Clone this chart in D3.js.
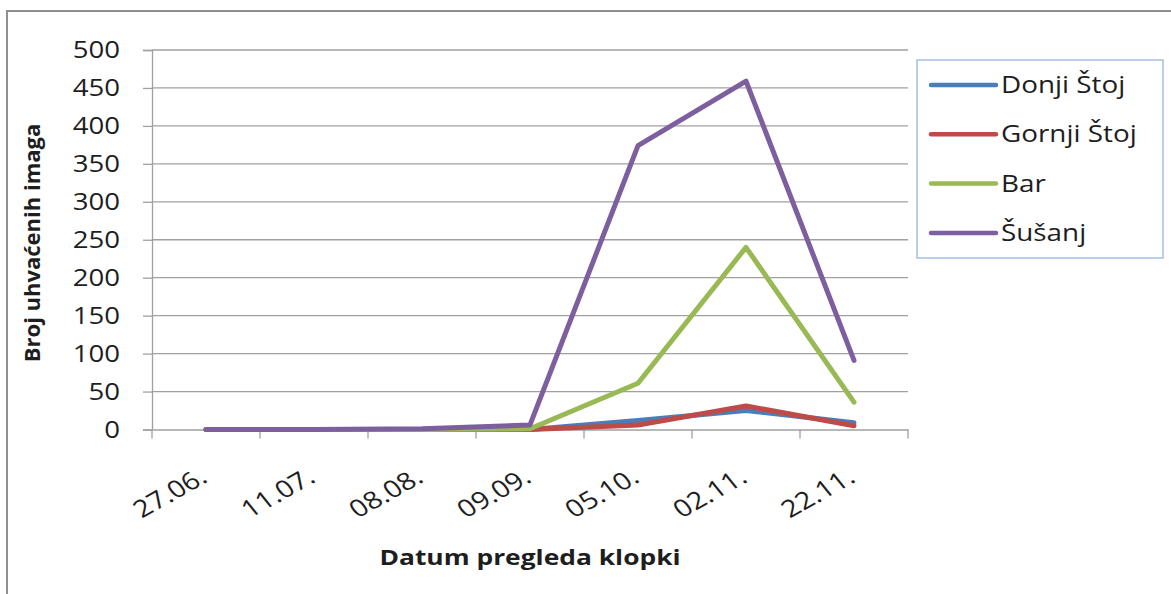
<!DOCTYPE html>
<html>
<head>
<meta charset="utf-8">
<script src="https://cdn.jsdelivr.net/npm/d3@7"></script>
<style>
  html, body { margin: 0; padding: 0; background: #fff; }
  svg { display: block; }
  text { font-family: "Open Sans", "Noto Sans", sans-serif; fill: #1e1e1e; }
</style>
</head>
<body>
<svg id="chart" width="1171" height="594"></svg>
<script>
const categories = ["27.06.", "11.07.", "08.08.", "09.09.", "05.10.", "02.11.", "22.11."];
const seriesNames = ["Donji Štoj", "Gornji Štoj", "Bar", "Šušanj"];
const seriesColors = ["#4a7ebb", "#be4b48", "#98b954", "#7d5fa0"];
const donjiStoj  = [0, 0, 0, 0, 12, 25, 9];
const gornjiStoj = [0, 0, 0, 0, 6, 31, 5];
const bar        = [0, 0, 0, 1, 61, 240, 36];
const susanj     = [0, 0, 1, 6, 374, 459, 91];
const seriesValues = [donjiStoj, gornjiStoj, bar, susanj];
const yTicks = [0, 50, 100, 150, 200, 250, 300, 350, 400, 450, 500];
const yTitle = "Broj uhvaćenih imaga";
const xTitle = "Datum pregleda klopki";

const SX = 1.2; // horizontal text stretch seen in the reference
const svg = d3.select("#chart");
const plot = { left: 152, right: 908, top: 50, bottom: 429.5 };

// outer frame (left and top edges visible)
svg.append("path")
  .attr("d", `M7,594 L7,11 L1171,11`)
  .attr("fill", "none").attr("stroke", "#8f8f8f").attr("stroke-width", 2);

const x = d3.scaleBand().domain(categories).range([plot.left, plot.right]).paddingInner(0).paddingOuter(0);
const y = d3.scaleLinear().domain([0, 500]).range([plot.bottom, plot.top]);

// gridlines
svg.append("g").selectAll("line").data(yTicks.filter(d => d > 0)).join("line")
  .attr("x1", plot.left).attr("x2", plot.right)
  .attr("y1", d => y(d)).attr("y2", d => y(d))
  .attr("stroke", "#a0a0a0").attr("stroke-width", 1.3);

// y axis (line + ticks through d3 axis, labels drawn stretched)
const yAxis = svg.append("g").attr("transform", `translate(${plot.left},0)`)
  .call(d3.axisLeft(y).tickValues(yTicks).tickSize(9).tickFormat(""));
yAxis.select(".domain").attr("stroke", "#a0a0a0").attr("stroke-width", 1.3);
yAxis.selectAll(".tick line").attr("stroke", "#a0a0a0").attr("stroke-width", 1.3);
svg.append("g").selectAll("text").data(yTicks).join("text")
  .attr("transform", d => `translate(120,${y(d)}) scale(${SX},1)`)
  .attr("text-anchor", "end").attr("dy", "0.36em")
  .style("font-size", "23px")
  .text(d => d3.format("d")(d));

// x axis
const xAxis = svg.append("g").attr("transform", `translate(0,${plot.bottom})`)
  .call(d3.axisBottom(x).tickSize(0).tickFormat(""));
xAxis.select(".domain").attr("stroke", "#a0a0a0").attr("stroke-width", 1.3);
xAxis.selectAll(".tick").remove();
const bounds = categories.map(c => x(c)).concat([x(categories[categories.length - 1]) + x.bandwidth()]);
xAxis.selectAll("line.bt").data(bounds).join("line").attr("class", "bt")
  .attr("x1", d => d).attr("x2", d => d).attr("y1", 0).attr("y2", 9)
  .attr("stroke", "#a0a0a0").attr("stroke-width", 1.3);

// x tick labels rotated
svg.append("g").selectAll("text").data(categories).join("text")
  .attr("transform", d => `translate(${x(d) + x.bandwidth() / 2 + 3},481) scale(${SX},1) rotate(-34)`)
  .attr("text-anchor", "end")
  .style("font-size", "24px")
  .text(d => d);

// lines
const line = d3.line().x((d, i) => x(categories[i]) + x.bandwidth() / 2).y(d => y(d));
svg.append("g").selectAll("path").data(seriesValues).join("path")
  .attr("d", d => line(d))
  .attr("fill", "none")
  .attr("stroke", (d, i) => seriesColors[i])
  .attr("stroke-width", 5)
  .attr("stroke-linejoin", "round")
  .attr("stroke-linecap", "round");

// axis titles
svg.append("text")
  .attr("transform", `translate(40,243) rotate(-90)`)
  .attr("text-anchor", "middle")
  .style("font-size", "22px").style("font-weight", "bold")
  .text(yTitle);
svg.append("text")
  .attr("transform", `translate(530,565) scale(${SX},1)`)
  .attr("text-anchor", "middle")
  .style("font-size", "22px").style("font-weight", "bold")
  .text(xTitle);

// legend
const lg = svg.append("g");
lg.append("rect").attr("x", 917).attr("y", 60).attr("width", 246).attr("height", 198)
  .attr("fill", "#fff").attr("stroke", "#a7c0e4").attr("stroke-width", 1.5);
const items = lg.selectAll("g.item").data(seriesNames).join("g").attr("class", "item")
  .attr("transform", (d, i) => `translate(0,${85 + i * 49.3})`);
items.append("line").attr("x1", 931).attr("x2", 996).attr("y1", 0).attr("y2", 0)
  .attr("stroke", (d, i) => seriesColors[i]).attr("stroke-width", 4.5).attr("stroke-linecap", "round");
items.append("text").attr("transform", `translate(1001,8) scale(1.16,1)`)
  .style("font-size", "24px").text(d => d);
</script>
</body>
</html>
